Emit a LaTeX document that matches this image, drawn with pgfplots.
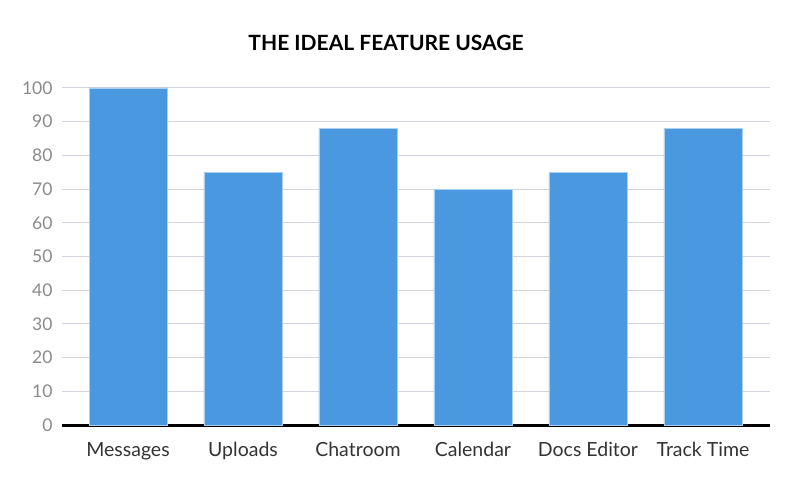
\documentclass[border=0pt]{standalone}
\usepackage{fontspec}
\setmainfont{Lato}
\usepackage{pgfplots}
\pgfplotsset{compat=1.18}
\definecolor{barblue}{HTML}{4A99E0}
\definecolor{baredge}{HTML}{A8D0F2}
\definecolor{gridgray}{HTML}{D4D4DE}
\definecolor{ticktext}{HTML}{8A8A8A}
\definecolor{labeltext}{HTML}{333333}
\begin{document}
\begin{tikzpicture}
\useasboundingbox (-62pt,-63pt) rectangle (732pt,425pt);
\begin{axis}[
    scale only axis,
    width=708pt, height=337pt,
    ymin=0, ymax=100,
    xmin=-0.574, xmax=5.583,
    ytick={0,10,...,100},
    xtick=data,
    xticklabels={Messages,Uploads,Chatroom,Calendar,Docs Editor,Track Time},
    major tick length=0pt,
    axis x line*=bottom,
    axis y line*=left,
    x axis line style={black, line width=3pt, -},
    y axis line style={draw=none},
    ymajorgrids=true,
    grid style={gridgray, line width=1pt},
    /pgf/number format/assume math mode=true,
    y tick label style={font=\fontsize{17.5}{20}\selectfont, text=ticktext, xshift=-6pt},
    x tick label style={font=\fontsize{19.5}{22}\selectfont, text=labeltext, yshift=-14pt},
    title={\bfseries THE IDEAL FEATURE USAGE},
    title style={font=\fontsize{21}{24}\selectfont, text=black, at={(axis description cs:0,1)}, anchor=center, xshift=324pt, yshift=39pt},
]
\addplot[ybar, bar width=78pt, fill=barblue, draw=baredge, line width=0.8pt] coordinates {
(0,100)(1,75)(2,88)(3,70)(4,75)(5,88)
};
\end{axis}
\end{tikzpicture}
\end{document}
